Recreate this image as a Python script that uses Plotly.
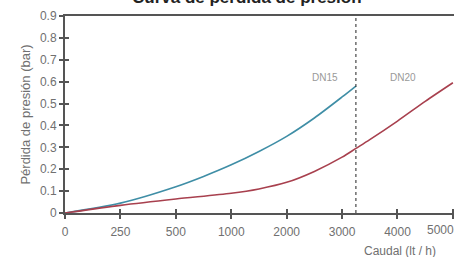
import numpy as np
import plotly.graph_objects as go

# Tick labels of the (non-linear) caudal axis
tick_caudal = [0, 250, 500, 1000, 2000, 3000, 4000, 5000]
tick_labels = ["0", "250", "500", "1000", "2000", "3000", "4000", "5000"]
y_ticks = [0, 0.1, 0.2, 0.3, 0.4, 0.5, 0.6, 0.7, 0.8, 0.9]
y_labels = ["0", "0.1", "0.2", "0.3", "0.4", "0.5", "0.6", "0.7", "0.8", "0.9"]

# DN15 series (caudal lt/h, pressure loss bar)
dn15_caudal = [0, 250, 500, 750, 1000, 1500, 2000, 2500, 3000, 3250]
dn15_bar = [0, 0.045, 0.12, 0.167, 0.22, 0.281, 0.35, 0.434, 0.53, 0.58]

# DN20 series
dn20_caudal = [0, 250, 500, 1000, 1500, 2000, 2500, 3000, 3250, 3500, 4000, 4500, 5000]
dn20_bar = [0, 0.035, 0.064, 0.09, 0.11, 0.14, 0.19, 0.255, 0.295, 0.335, 0.42, 0.51, 0.595]

limit_caudal = 3250  # DN15 / DN20 separation

tick_pos = list(range(len(tick_caudal)))


def to_axis(c):
    return np.interp(c, tick_caudal, tick_pos)


FONT = "Liberation Sans, Arial, sans-serif"
GRAY = "#707070"
AX = "#555555"
XR = [0, 7.02]
YR = [0, 0.9]

# last label is drawn as an annotation (it sits at the right edge)
axis_text = tick_labels[:-1] + [""]

fig = go.Figure()
fig.add_trace(go.Scatter(x=to_axis(dn15_caudal), y=dn15_bar, mode="lines",
                         line=dict(color="#3f8ea6", width=1.6, shape="spline", smoothing=0.8),
                         name="DN15", showlegend=False))
fig.add_trace(go.Scatter(x=to_axis(dn20_caudal), y=dn20_bar, mode="lines",
                         line=dict(color="#a8404e", width=1.6, shape="spline", smoothing=0.8),
                         name="DN20", showlegend=False))

fig.add_shape(type="line", xref="x", yref="paper",
              x0=float(to_axis(limit_caudal)), x1=float(to_axis(limit_caudal)),
              y0=0, y1=1, line=dict(color="#222222", width=1, dash="dot"))

fig.add_annotation(x=float(to_axis(2700)), y=0.62, text="DN15", showarrow=False,
                   font=dict(family=FONT, size=10, color="#999999"))
fig.add_annotation(x=float(to_axis(4100)), y=0.62, text="DN20", showarrow=False,
                   font=dict(family=FONT, size=10, color="#999999"))

fig.add_annotation(x=float(to_axis(tick_caudal[-1])), xref="x", yref="paper", y=-0.086,
                   xanchor="center", yanchor="middle", xshift=-12,
                   text=tick_labels[-1], showarrow=False,
                   font=dict(family=FONT, size=12, color=GRAY))

fig.add_annotation(xref="paper", yref="paper", x=0.468, y=1.035, xanchor="center",
                   yanchor="bottom", text="<b>Curva de pérdida de presión</b>",
                   showarrow=False, font=dict(family=FONT, size=17, color="#222222"))

fig.add_annotation(xref="paper", yref="paper", x=0.96, y=-0.193, xanchor="right",
                   yanchor="middle", text="Caudal (lt / h)", showarrow=False,
                   font=dict(family=FONT, size=12, color=GRAY))

fig.update_layout(
    width=454, height=257,
    margin=dict(l=65, r=0, t=16, b=44, autoexpand=False),
    paper_bgcolor="white", plot_bgcolor="white",
    font=dict(family=FONT, size=12, color=GRAY),
    xaxis=dict(range=XR, tickvals=tick_pos, ticktext=axis_text, automargin=False,
               showgrid=False, zeroline=False, showline=True, linecolor=AX,
               linewidth=2, mirror=True, ticks="outside", ticklen=4,
               tickcolor=AX, tickwidth=1.5, ticklabelstandoff=3,
               tickfont=dict(size=12, color=GRAY)),
    yaxis=dict(range=YR, tickvals=y_ticks, ticktext=y_labels, automargin=False,
               showgrid=False, zeroline=False, showline=True, linecolor=AX,
               linewidth=2, ticks="outside", ticklen=4, tickcolor=AX,
               tickwidth=1.5, tickfont=dict(size=12, color=GRAY),
               title=dict(text="Pérdida de presión (bar)",
                          font=dict(size=13, color=GRAY), standoff=6)),
    xaxis2=dict(overlaying="x", range=XR, tickvals=tick_pos, automargin=False,
                showticklabels=False, showgrid=False, zeroline=False,
                ticks="inside", ticklen=4, tickcolor=AX, tickwidth=1.5),
    yaxis2=dict(overlaying="y", range=YR, tickvals=y_ticks, automargin=False,
                showticklabels=False, showgrid=False, zeroline=False,
                ticks="inside", ticklen=4, tickcolor=AX, tickwidth=1.5),
)
fig.add_trace(go.Scatter(x=[0], y=[0], xaxis="x2", yaxis="y2", mode="markers",
                         marker=dict(opacity=0), hoverinfo="skip", showlegend=False))

fig.write_html("out.html", config={"displayModeBar": False},
               post_script="document.body.style.margin='0';")
